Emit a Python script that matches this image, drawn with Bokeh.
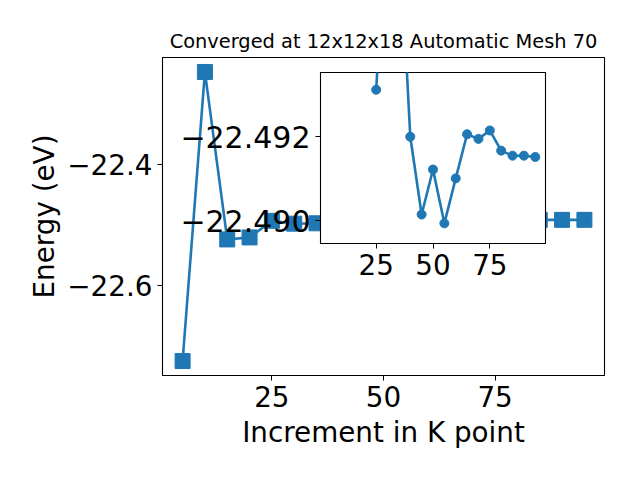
from bokeh.plotting import figure
from bokeh.layouts import column
from bokeh.models import Range1d, FixedTicker, CustomJSTickFormatter
from bokeh.embed import file_html
from bokeh.resources import INLINE

# ---- data ----
kpoints = [5, 10, 15, 20, 25, 30, 35, 40, 45, 50, 55, 60, 65, 70, 75, 80, 85, 90, 95]
energy = [-22.7237, -22.2483, -22.5237, -22.5204, -22.49312, -22.4978, -22.4972,
          -22.49200, -22.49015, -22.49122, -22.48994, -22.49101, -22.49206,
          -22.49195, -22.49215, -22.49167, -22.49155, -22.49155, -22.49152]
inset_start = 4  # the inset shows the points from 25 onward
main_xticks = [25, 50, 75]
main_yticks = [-22.6, -22.4]
inset_xticks = [25, 50, 75]
inset_yticks = [-22.492, -22.490]
title_text = "Converged at 12x12x18 Automatic Mesh 70"
xlabel = "Increment in K point"
ylabel = "Energy (eV)"

BLUE = "#1f77b4"
FONT = "DejaVu Sans"
TICK_PX = "27.8px"


def fmt(decimals):
    return CustomJSTickFormatter(code=f"""
        const s = Math.abs(tick).toFixed({decimals});
        return (tick < 0 ? '\\u2212' : '') + s;
    """)


def style_axes(fig):
    for ax in (fig.xaxis[0], fig.yaxis[0]):
        ax.axis_line_color = None
        ax.major_tick_line_color = "black"
        ax.major_tick_line_width = 1
        ax.major_tick_out = 5
        ax.major_tick_in = 0
        ax.minor_tick_line_color = None
        ax.major_label_text_font = FONT
        ax.major_label_text_font_size = TICK_PX
        ax.major_label_text_color = "black"
        ax.major_label_standoff = 5
        ax.axis_label_text_font = FONT
        ax.axis_label_text_font_size = TICK_PX
        ax.axis_label_text_font_style = "normal"
        ax.axis_label_text_color = "black"
    fig.xgrid.visible = False
    fig.ygrid.visible = False
    fig.outline_line_color = "black"
    fig.outline_line_width = 1.1
    fig.outline_line_alpha = 1.0


# ---- main figure ----
xmin, xmax = min(kpoints), max(kpoints)
xpad = 0.05 * (xmax - xmin)
ymin, ymax = min(energy), max(energy)
ypad = 0.05 * (ymax - ymin)

p = figure(width=632, height=472, output_backend="svg", toolbar_location=None,
           x_range=Range1d(xmin - xpad, xmax + xpad),
           y_range=Range1d(ymin - ypad, ymax + ypad),
           min_border_left=162, min_border_right=28,
           min_border_top=57, min_border_bottom=97)
p.title.text = title_text
p.title.text_font = FONT
p.title.text_font_size = "19.4px"
p.title.text_font_style = "normal"
p.title.align = "center"
p.title.text_color = "black"
style_axes(p)
p.xaxis.ticker = FixedTicker(ticks=main_xticks)
p.yaxis.ticker = FixedTicker(ticks=main_yticks)
p.yaxis.formatter = fmt(1)
p.xaxis.axis_label = xlabel
p.yaxis.axis_label = ylabel
p.xaxis.axis_label_standoff = 6
p.yaxis.axis_label_standoff = 3
p.background_fill_color = "white"
p.border_fill_color = "white"

p.line(kpoints, energy, line_width=2.6, color=BLUE)
p.scatter(kpoints, energy, marker="square", size=15, color=BLUE)

# ---- inset figure ----
inset = figure(width=415, height=226, output_backend="svg", toolbar_location=None,
               x_range=Range1d(xmin - xpad, xmax + xpad),
               y_range=Range1d(-22.48946, -22.49353),
               min_border_left=160, min_border_right=10,
               min_border_top=10, min_border_bottom=45)
style_axes(inset)
inset.xaxis.ticker = FixedTicker(ticks=inset_xticks)
inset.yaxis.ticker = FixedTicker(ticks=inset_yticks)
inset.yaxis.formatter = fmt(3)
inset.yaxis.major_label_text_font_size = "30px"
inset.background_fill_color = "white"
inset.border_fill_color = None
inset.border_fill_alpha = 0

ix = kpoints[inset_start:]
iy = energy[inset_start:]
inset.line(ix, iy, line_width=2.6, color=BLUE)
inset.scatter(ix, iy, marker="circle", size=9, color=BLUE)

inset.styles = {"position": "absolute", "left": "158px", "top": "62px", "z-index": "2"}

layout = column(p, inset, width=632, height=472, sizing_mode="fixed")
layout.styles = {"position": "relative"}

open("out.html", "w").write(file_html(layout, INLINE))
